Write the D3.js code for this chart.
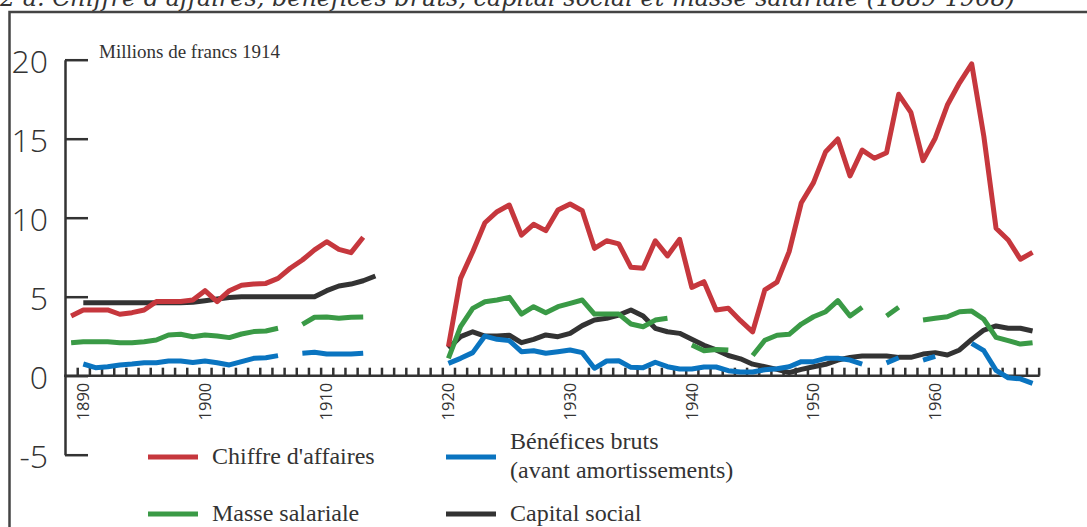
<!DOCTYPE html>
<html>
<head>
<meta charset="utf-8">
<script src="https://cdn.jsdelivr.net/npm/d3@7"></script>
<style>
  html, body { margin: 0; padding: 0; background: #fff; }
  svg { display: block; }
</style>
</head>
<body>
<svg id="chart" width="1087" height="527"></svg>
<script>
// Annual series, 1889-1968 (millions de francs 1914); null = no data
const firstYear = 1889;
const lastYear = 1968;

const chiffreAffaires = [
  3.78, 4.16, 4.16, 4.16, 3.89, 3.99, 4.16, 4.69, 4.69, 4.69,
  4.79, 5.38, 4.69, 5.38, 5.72, 5.80, 5.84, 6.16, 6.80, 7.32,
  7.96, 8.48, 8.00, 7.79, 8.76, null, null, null, null, null,
  null, 1.84, 6.16, 7.85, 9.68, 10.38, 10.80, 8.90, 9.58, 9.18,
  10.49, 10.87, 10.44, 8.06, 8.54, 8.34, 6.86, 6.80, 8.54, 7.58,
  8.63, 5.59, 5.95, 4.16, 4.27, 3.48, 2.78, 5.43, 5.92, 7.85,
  10.95, 12.22, 14.18, 14.98, 12.64, 14.28, 13.76, 14.11, 17.81, 16.67,
  13.61, 15.03, 17.13, 18.54, 19.73, 15.13, 9.33, 8.59, 7.37, 7.81
];

const beneficesBruts = [
  null, 0.74, 0.51, 0.57, 0.68, 0.74, 0.82, 0.82, 0.93, 0.93,
  0.84, 0.93, 0.82, 0.68, 0.89, 1.10, 1.14, 1.27, null, 1.42,
  1.48, 1.37, 1.37, 1.37, 1.42, null, null, null, null, null,
  null, 0.78, 1.10, 1.46, 2.51, 2.30, 2.22, 1.52, 1.58, 1.42,
  1.52, 1.63, 1.46, 0.47, 0.93, 0.95, 0.53, 0.51, 0.85, 0.57,
  0.42, 0.42, 0.55, 0.55, 0.32, 0.23, 0.23, 0.38, 0.44, 0.57,
  0.89, 0.89, 1.10, 1.10, 0.99, 0.74, null, 0.81, 1.14, null,
  0.99, 1.22, null, null, 2.05, 1.58, 0.34, -0.13, -0.20, -0.48
];

const masseSalariale = [
  2.09, 2.15, 2.15, 2.15, 2.09, 2.09, 2.15, 2.26, 2.58, 2.62,
  2.47, 2.58, 2.51, 2.41, 2.64, 2.79, 2.83, 3.00, null, 3.25,
  3.70, 3.72, 3.63, 3.70, 3.72, null, null, null, null, null,
  null, 1.10, 3.10, 4.26, 4.68, 4.79, 4.96, 3.90, 4.37, 3.99,
  4.37, 4.58, 4.79, 3.90, 3.90, 3.90, 3.27, 3.10, 3.52, 3.63,
  null, 1.94, 1.58, 1.66, 1.62, null, 1.28, 2.24, 2.56, 2.62,
  3.27, 3.73, 4.05, 4.75, 3.78, 4.33, null, 3.78, 4.33, null,
  3.52, 3.63, 3.73, 4.05, 4.09, 3.57, 2.43, 2.22, 2.00, 2.09
];

const capitalSocial = [
  null, 4.62, 4.62, 4.62, 4.62, 4.62, 4.62, 4.62, 4.62, 4.62,
  4.65, 4.75, 4.85, 4.95, 5.00, 5.00, 5.00, 5.00, 5.00, 5.00,
  5.00, 5.38, 5.68, 5.80, 6.01, 6.31, null, null, null, null,
  null, 1.73, 2.47, 2.78, 2.51, 2.51, 2.56, 2.09, 2.30, 2.58,
  2.47, 2.68, 3.17, 3.52, 3.63, 3.84, 4.16, 3.78, 3.00, 2.78,
  2.68, 2.30, 1.92, 1.63, 1.28, 1.07, 0.73, 0.57, 0.40, 0.19,
  0.40, 0.57, 0.72, 0.99, 1.16, 1.25, 1.25, 1.25, 1.16, 1.16,
  1.37, 1.46, 1.31, 1.63, 2.30, 2.89, 3.15, 3.00, 3.00, 2.83
];

const yTicks = [-5, 0, 5, 10, 15, 20];
const decadeLabels = [1890, 1900, 1910, 1920, 1930, 1940, 1950, 1960];

const titleText = "2 a. Chiffre d'affaires, bénéfices bruts, capital social et masse salariale (1889-1968)";
const unitText = "Millions de francs 1914";

const series = [
  { name: "Capital social", values: capitalSocial, color: "#333333" },
  { name: "Masse salariale", values: masseSalariale, color: "#3a9a46" },
  { name: "Bénéfices bruts", values: beneficesBruts, color: "#0a74c0" },
  { name: "Chiffre d'affaires", values: chiffreAffaires, color: "#c6373d" }
];

const legendItems = [
  { lines: ["Chiffre d'affaires"], color: "#c6373d", col: 0, row: 0 },
  { lines: ["Bénéfices bruts", "(avant amortissements)"], color: "#0a74c0", col: 1, row: 0 },
  { lines: ["Masse salariale"], color: "#3a9a46", col: 0, row: 1 },
  { lines: ["Capital social"], color: "#333333", col: 1, row: 1 }
];

const years = d3.range(firstYear, lastYear + 1);
const axisColor = "#333";

const svg = d3.select("#chart");

const x = d3.scaleLinear().domain([1890, 1960]).range([83.3, 935.2]);
const y = d3.scaleLinear().domain([-5, 20]).range([454.7, 59.7]);

// Title (top of the page, partly cut by the page edge)
svg.append("text")
  .attr("x", 0).attr("y", 6)
  .attr("textLength", 1015)
  .attr("lengthAdjust", "spacingAndGlyphs")
  .attr("font-family", "'DejaVu Serif', serif")
  .attr("font-style", "italic")
  .attr("font-size", 24)
  .attr("fill", "#333")
  .text(titleText);

// Frame
svg.append("path")
  .attr("d", "M9.5,527 V12 H1087")
  .attr("fill", "none")
  .attr("stroke", "#444")
  .attr("stroke-width", 2.5);

// Y axis
const yAxis = d3.axisRight(y)
  .tickValues(yTicks)
  .tickSize(23)
  .tickSizeOuter(0)
  .tickFormat("");
const gy = svg.append("g").attr("transform", "translate(65,0)").call(yAxis);
gy.selectAll("path, line").attr("stroke", axisColor).attr("stroke-width", 2.5);

svg.append("g").selectAll("text")
  .data(yTicks)
  .join("text")
  .attr("x", 48)
  .attr("y", d => y(d) + 13)
  .attr("text-anchor", "end")
  .attr("font-family", "'Open Sans', sans-serif")
  .attr("font-weight", 300)
  .attr("font-size", 32)
  .attr("fill", "#333")
  .text(d => d);

// X axis: baseline at zero with year-boundary ticks
const xTickValues = d3.range(firstYear + 0.5, lastYear + 1, 1);
const xAxis = d3.axisTop(x)
  .tickValues(xTickValues)
  .tickSize(8)
  .tickSizeOuter(0)
  .tickFormat("");
const gx = svg.append("g").attr("transform", `translate(0,${y(0)})`).call(xAxis);
gx.select(".domain").remove();
gx.selectAll("line").attr("stroke", axisColor).attr("stroke-width", 2.5);
gx.append("line")
  .attr("x1", 64).attr("x2", x(lastYear + 0.5) + 1)
  .attr("stroke", axisColor).attr("stroke-width", 2.5);

svg.append("g").selectAll("text")
  .data(decadeLabels)
  .join("text")
  .attr("transform", d => `translate(${x(d)},${y(0) + 7}) rotate(-90)`)
  .attr("text-anchor", "end")
  .attr("dy", "0.35em")
  .attr("font-family", "'Open Sans', sans-serif")
  .attr("font-size", 16.5)
  .attr("fill", "#333")
  .text(d => d);

// Unit label
svg.append("text")
  .attr("x", 99).attr("y", 58)
  .attr("font-family", "'Liberation Serif', serif")
  .attr("font-size", 19)
  .attr("fill", "#333")
  .text(unitText);

// Series lines
const line = d3.line()
  .defined(d => d.v !== null)
  .x(d => x(d.year))
  .y(d => y(d.v));

svg.append("g").selectAll("path")
  .data(series)
  .join("path")
  .attr("d", s => line(years.map((yr, i) => ({ year: yr, v: s.values[i] }))))
  .attr("fill", "none")
  .attr("stroke", s => s.color)
  .attr("stroke-width", 5)
  .attr("stroke-linejoin", "round")
  .attr("stroke-linecap", "butt");

// Legend
const legendCols = [148, 446];
const legendRows = [457, 514];
const lg = svg.append("g");
legendItems.forEach(item => {
  const lx = legendCols[item.col];
  const ly = legendRows[item.row];
  lg.append("line")
    .attr("x1", lx).attr("x2", lx + 50)
    .attr("y1", ly).attr("y2", ly)
    .attr("stroke", item.color).attr("stroke-width", 5);
  const t = lg.append("text")
    .attr("font-family", "'Liberation Serif', serif")
    .attr("font-size", 24)
    .attr("fill", "#333");
  if (item.lines.length === 1) {
    t.append("tspan").attr("x", lx + 64).attr("y", ly + 7).text(item.lines[0]);
  } else {
    t.append("tspan").attr("x", lx + 64).attr("y", ly - 8).text(item.lines[0]);
    t.append("tspan").attr("x", lx + 64).attr("y", ly + 21).text(item.lines[1]);
  }
});
</script>
</body>
</html>
